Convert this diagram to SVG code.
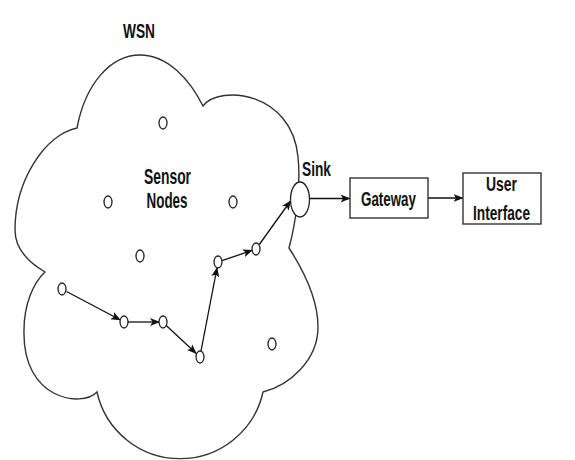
<svg xmlns="http://www.w3.org/2000/svg" width="575" height="460" viewBox="0 0 575 460">
<defs>
<marker id="arr" markerWidth="10" markerHeight="8" refX="9" refY="4" orient="auto" markerUnits="userSpaceOnUse">
<path d="M0,0 L10,4 L0,8 L2.5,4 Z" fill="#111"/>
</marker>
<style>
.cloud{fill:#fff;stroke:#333;stroke-width:1.4}
.node{fill:#fff;stroke:#222;stroke-width:1.3}
.box{fill:#fff;stroke:#333;stroke-width:1.4}
.edge{fill:none;stroke:#111;stroke-width:1.3;marker-end:url(#arr)}
.t{font-family:"Liberation Sans",Arial,sans-serif;font-weight:bold;fill:#111;text-anchor:middle}
</style>
</defs>
<rect width="575" height="460" fill="#fff"/>
<g id="cloud">
<path class="cloud" d="M77,128 C85,85 110,55 140,55 C168,55 190,80 203,106 C220,84 292,92 298,157 C301,185 296,222 289,248 C300,265 318,295 318,327 C318,360 290,385 263,392 A85,85 0 0 1 97,392 C82,408 22,400 24,330 C24,305 33,283 45,272 C28,262 15,248 15,230 C15,180 45,135 77,128 Z"/>
</g>
<g id="wsn-label"><text class="t" x="139" y="37.5" font-size="21" textLength="32" lengthAdjust="spacingAndGlyphs">WSN</text></g>
<g id="sensor-label">
<text class="t" x="167.5" y="183.5" font-size="22" textLength="47" lengthAdjust="spacingAndGlyphs">Sensor</text>
<text class="t" x="167" y="208" font-size="22" textLength="41" lengthAdjust="spacingAndGlyphs">Nodes</text>
</g>
<g id="connectors">
<line class="edge" x1="66.5" y1="291.5" x2="120" y2="319.8"/>
<line class="edge" x1="128" y1="322" x2="159" y2="322"/>
<line class="edge" x1="166" y1="325.3" x2="196" y2="353.2"/>
<line class="edge" x1="201" y1="351" x2="217" y2="268"/>
<line class="edge" x1="222" y1="260.7" x2="252" y2="250.4"/>
<line class="edge" x1="259.3" y1="244.5" x2="290.5" y2="201"/>
<line class="edge" x1="309.5" y1="198.5" x2="349.5" y2="198.5"/>
<line class="edge" x1="428" y1="198" x2="462.5" y2="198"/>
</g>
<g id="n1"><ellipse class="node" cx="163" cy="123" rx="4" ry="6"/></g>
<g id="n2"><ellipse class="node" cx="108" cy="202" rx="4" ry="6"/></g>
<g id="n3"><ellipse class="node" cx="233" cy="202" rx="4" ry="6"/></g>
<g id="n4"><ellipse class="node" cx="140" cy="256" rx="4" ry="6"/></g>
<g id="n5"><ellipse class="node" cx="62" cy="289" rx="4" ry="6"/></g>
<g id="n6"><ellipse class="node" cx="124" cy="322" rx="4" ry="6"/></g>
<g id="n7"><ellipse class="node" cx="163" cy="322" rx="4" ry="6"/></g>
<g id="n8"><ellipse class="node" cx="200" cy="357" rx="4" ry="6"/></g>
<g id="n9"><ellipse class="node" cx="218" cy="262" rx="4" ry="6"/></g>
<g id="n10"><ellipse class="node" cx="256" cy="249" rx="4" ry="6"/></g>
<g id="n11"><ellipse class="node" cx="272" cy="344" rx="4" ry="6"/></g>
<g id="sink">
<ellipse class="node" cx="300" cy="199.5" rx="9.5" ry="17.5"/>
<text class="t" x="316.5" y="176" font-size="20" textLength="29" lengthAdjust="spacingAndGlyphs">Sink</text>
</g>
<g id="gateway">
<rect class="box" x="350" y="178" width="78" height="40"/>
<text class="t" x="388.5" y="205.5" font-size="21" textLength="55" lengthAdjust="spacingAndGlyphs">Gateway</text>
</g>
<g id="user-interface">
<rect class="box" x="463" y="173" width="78" height="51"/>
<text class="t" x="501.5" y="190.5" font-size="20" textLength="31" lengthAdjust="spacingAndGlyphs">User</text>
<text class="t" x="501.5" y="219.5" font-size="21" textLength="57" lengthAdjust="spacingAndGlyphs">Interface</text>
</g>
</svg>
